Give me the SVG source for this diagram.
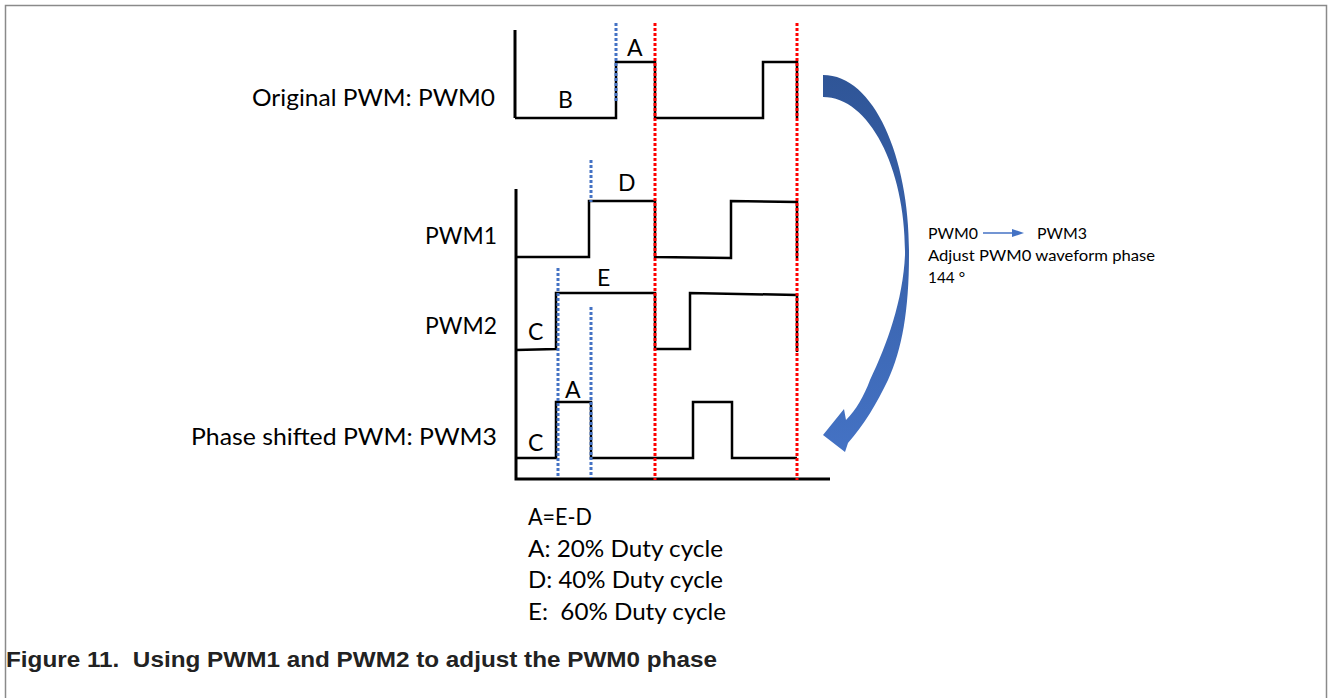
<svg xmlns="http://www.w3.org/2000/svg" width="1328" height="698" viewBox="0 0 1328 698">
<style>
.wave{fill:none;stroke:#000;stroke-width:2.5;stroke-linejoin:miter}
.axis{fill:none;stroke:#000;stroke-width:3}
.blue{stroke:#4472C4;stroke-width:3;stroke-dasharray:3 2;fill:none}
.red{stroke:#FF0000;stroke-width:3;stroke-dasharray:3 2;fill:none}
.lbl{font-family:Lato,"Open Sans",sans-serif;font-size:23px;fill:#000}
.note{font-family:Lato,"Open Sans",sans-serif;font-size:16px;fill:#000}
.cap{font-family:"Liberation Sans",Arial,sans-serif;font-weight:bold;font-size:22px;fill:#222}
</style>
<defs>
<linearGradient id="ag" x1="0" y1="0" x2="0" y2="1">
<stop offset="0" stop-color="#2F5597"/>
<stop offset="1" stop-color="#4472C4"/>
</linearGradient>
</defs>
<rect width="1328" height="698" fill="#fff"/>
<rect x="5.5" y="5.5" width="1321" height="720" fill="none" stroke="#8a8a8a" stroke-width="1.5"/>

<g id="pwm0">
<path class="axis" d="M515,30 V118"/>
<path class="wave" d="M515,118 H616 V62 H655 V118 H763 V62 H797 V118"/>
<text class="lbl" x="252" y="106" textLength="243" lengthAdjust="spacingAndGlyphs">Original PWM: PWM0</text>
<text class="lbl" x="627" y="56">A</text>
<text class="lbl" x="558" y="108">B</text>
</g>

<g id="axes">
<path class="axis" d="M516,189 V479 H830"/>
</g>

<g id="pwm1">
<path class="wave" d="M516,257 H589 V201 H655 V257 L731,258 V201 L797,202 V258"/>
<text class="lbl" x="425" y="244" textLength="72" lengthAdjust="spacingAndGlyphs">PWM1</text>
<text class="lbl" x="618" y="191">D</text>
</g>

<g id="pwm2">
<path class="wave" d="M516,350 L556,349 V293 H655 V349 H690 V293 L797,295 V352"/>
<text class="lbl" x="425" y="334" textLength="72" lengthAdjust="spacingAndGlyphs">PWM2</text>
<text class="lbl" x="597" y="286">E</text>
<text class="lbl" x="528" y="340">C</text>
</g>

<g id="pwm3">
<path class="wave" d="M516,458 H556 V402 H591 V458 H693 V402 H732 V458 H797"/>
<text class="lbl" x="191" y="445" textLength="306" lengthAdjust="spacingAndGlyphs">Phase shifted PWM: PWM3</text>
<text class="lbl" x="565" y="398">A</text>
<text class="lbl" x="528" y="451">C</text>
</g>

<g id="connectors">
<path class="blue" d="M616,23 V102"/>
<path class="blue" d="M591,160 V202"/>
<path class="blue" d="M558,268 V478"/>
<path class="blue" d="M591,307 V478"/>
<path class="red" d="M655,23 V480"/>
<path class="red" d="M797,23 V480"/>
</g>

<g id="phase-arrow">
<path fill="url(#ag)" d="M823,75 C875,75 910,160 909,255 C909,310 902,350 888,380 C877,403 864,425 848,443 L845,452 L823,435 L844,409 L846,420 C856,410 864,396 870,380 C887,345 903,300 905,255 C906,170 870,97 823,97 Z"/>
</g>

<g id="note">
<text class="note" x="928" y="239" textLength="50" lengthAdjust="spacingAndGlyphs">PWM0</text>
<line x1="983" y1="233" x2="1013" y2="233" stroke="#4472C4" stroke-width="1.5"/>
<polygon points="1012,229 1024,233 1012,237" fill="#4472C4"/>
<text class="note" x="1037" y="239" textLength="50" lengthAdjust="spacingAndGlyphs">PWM3</text>
<text class="note" x="928" y="261" textLength="227" lengthAdjust="spacingAndGlyphs">Adjust PWM0 waveform phase</text>
<text class="note" x="928" y="283" textLength="37" lengthAdjust="spacingAndGlyphs">144 °</text>
</g>

<g id="legend">
<text class="lbl" x="528" y="525" textLength="64" lengthAdjust="spacingAndGlyphs">A=E-D</text>
<text class="lbl" x="528" y="557" textLength="195" lengthAdjust="spacingAndGlyphs">A: 20% Duty cycle</text>
<text class="lbl" x="528" y="588" textLength="195" lengthAdjust="spacingAndGlyphs">D: 40% Duty cycle</text>
<text class="lbl" x="528" y="620" textLength="198" lengthAdjust="spacingAndGlyphs" xml:space="preserve">E:  60% Duty cycle</text>
</g>

<text class="cap" x="6" y="667" textLength="711" lengthAdjust="spacingAndGlyphs" xml:space="preserve">Figure 11.  Using PWM1 and PWM2 to adjust the PWM0 phase</text>
</svg>
